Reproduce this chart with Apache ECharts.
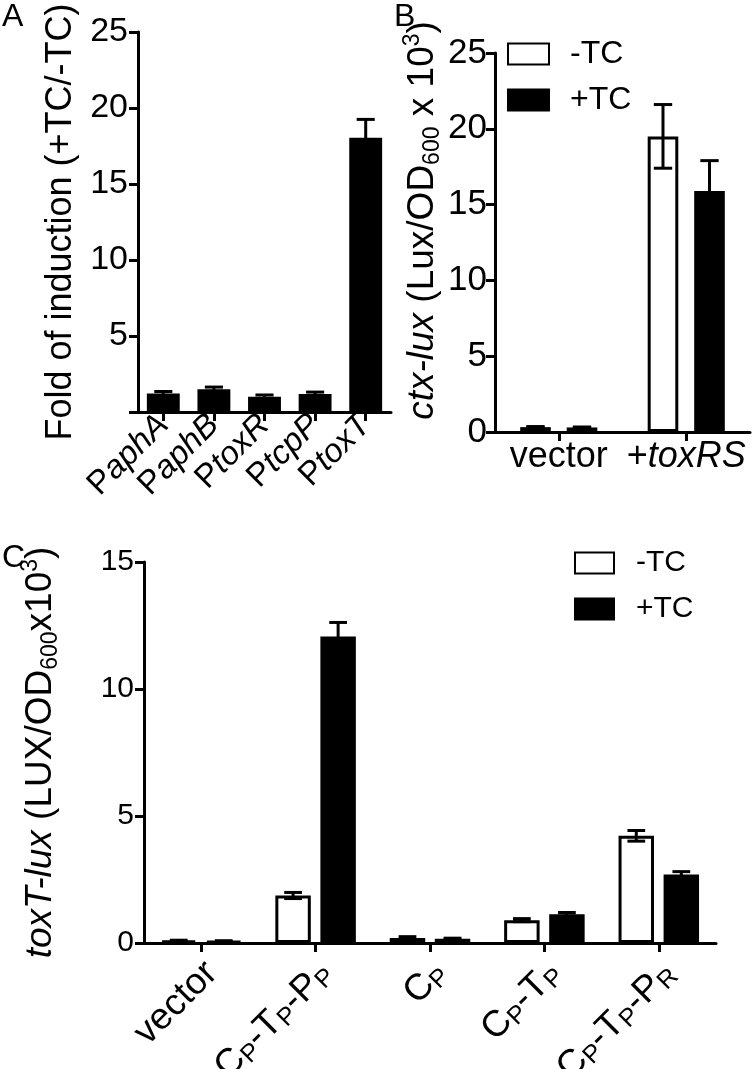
<!DOCTYPE html>
<html><head><meta charset="utf-8">
<script src="https://cdn.jsdelivr.net/npm/echarts@6/dist/echarts.min.js"></script>
<style>html,body{margin:0;padding:0;background:#fff}#c{width:752px;height:1069px}</style>
</head><body><div id="c"></div>
<script>
// ---------- data ----------
const promotersA = ['PaphA', 'PaphB', 'PtoxR', 'PtcpP', 'PtoxT'];
const foldA = [1.22, 1.5, 1.0, 1.18, 18.05];
const foldErrA = [0.13, 0.14, 0.12, 0.13, 1.2];
const yTicksA = [0, 5, 10, 15, 20, 25];

const categoriesB = ['vector', '+toxRS'];
const minusTcB = [0.32, 19.5];
const minusTcErrB = [0.04, 2.1];
const plusTcB = [0.3, 15.9];
const plusTcErrB = [0.03, 2.0];
const yTicksB = [0, 5, 10, 15, 20, 25];

const constructsC = ['vector', 'C_P-T_P-P_P', 'C_P', 'C_P-T_P', 'C_P-T_P-P_R'];
const minusTcC = [0.09, 1.87, 0.2, 0.9, 4.22];
const minusTcErrC = [0.02, 0.12, 0.05, 0.06, 0.21];
const plusTcC = [0.07, 12.07, 0.17, 1.13, 2.7];
const plusTcErrC = [0.02, 0.55, 0.02, 0.07, 0.11];
const yTicksC = [0, 5, 10, 15];

const seriesNames = ['-TC', '+TC'];

// ---------- helpers ----------
const FF = '"Liberation Sans", Arial, sans-serif';

function errData(vals, errs) { return vals.map((v, i) => [i, v, errs[i]]); }

function errRender(sign, barPct, gapPct, capFrac, lw) {
  return function (params, api) {
    const idx = api.value(0), v = api.value(1), e = api.value(2);
    const band = api.size([1, 0])[0];
    const bw = band * barPct;
    const off = sign * (bw + bw * gapPct) / 2;
    const top = api.coord([idx, v + e]);
    const bot = api.coord([idx, Math.max(0, v - e)]);
    const x = top[0] + off;
    const cap = bw * capFrac / 2;
    const st = { stroke: '#000', lineWidth: lw };
    return {
      type: 'group', children: [
        { type: 'line', shape: { x1: x, y1: top[1], x2: x, y2: bot[1] }, style: st },
        { type: 'line', shape: { x1: x - cap, y1: top[1], x2: x + cap, y2: top[1] }, style: st },
        { type: 'line', shape: { x1: x - cap, y1: bot[1], x2: x + cap, y2: bot[1] }, style: st }
      ]
    };
  };
}

const axisLineStyle = { show: true, lineStyle: { color: '#000', width: 3 } };
const axisTickStyle = { show: true, length: 9, lineStyle: { color: '#000', width: 3 } };

function makeTitleRich(fs) {
  const sub = Math.round(fs * 0.62);
  return {
    n: { fontFamily: FF, fontSize: fs, color: '#000', lineHeight: fs + 6 },
    i: { fontFamily: FF, fontSize: fs, fontStyle: 'italic', color: '#000', lineHeight: fs + 6 },
    sub: { fontFamily: FF, fontSize: sub, color: '#000', lineHeight: sub, verticalAlign: 'bottom' },
    sup: { fontFamily: FF, fontSize: sub, color: '#000', lineHeight: sub, verticalAlign: 'top' },
    gap: { width: 44, fontSize: fs, lineHeight: fs + 6 }
  };
}

function yAxis(grid, ticks, labelSize, labelMargin, hideZero, name, nameGap, fs) {
  return {
    type: 'value', gridIndex: grid, min: ticks[0], max: ticks[ticks.length - 1],
    interval: ticks[1] - ticks[0],
    axisLine: axisLineStyle, axisTick: axisTickStyle, splitLine: { show: false },
    axisLabel: {
      color: '#000', fontFamily: FF, fontSize: labelSize, margin: labelMargin,
      formatter: v => (hideZero && v === 0) ? '' : String(v)
    },
    name: name, nameLocation: 'middle', nameRotate: 90, nameGap: nameGap,
    nameTextStyle: { color: '#000', fontFamily: FF, fontSize: fs, rich: makeTitleRich(fs) }
  };
}

const panelTitle = { fontFamily: FF, fontSize: 32, fontWeight: 'normal', color: '#000' };

const option = {
  animation: false,
  backgroundColor: '#fff',
  title: [
    { text: 'A', left: 2, top: 1, padding: 0, textStyle: panelTitle },
    { text: 'B', left: 394, top: 1, padding: 0, textStyle: panelTitle },
    { text: 'C', left: 2, top: 542, padding: 0, textStyle: panelTitle }
  ],
  legend: [
    {
      data: seriesNames, orient: 'vertical', left: 507, top: 38, padding: 0, itemGap: 14,
      itemWidth: 41, itemHeight: 21, icon: 'rect', selectedMode: false,
      textStyle: { fontFamily: FF, fontSize: 32, color: '#000', padding: [0, 0, 0, 16] }
    },
    {
      data: seriesNames, orient: 'vertical', left: 574, top: 548, padding: 0, itemGap: 16,
      itemWidth: 39, itemHeight: 21, icon: 'rect', selectedMode: false,
      textStyle: { fontFamily: FF, fontSize: 30, color: '#000', padding: [0, 0, 0, 17] }
    }
  ],
  grid: [
    { left: 138, top: 32, width: 253, height: 380, outerBoundsMode: 'none', containLabel: false },
    { left: 495, top: 53, width: 255, height: 379, outerBoundsMode: 'none', containLabel: false },
    { left: 144, top: 562, width: 572, height: 381, outerBoundsMode: 'none', containLabel: false }
  ],
  xAxis: [
    {
      type: 'category', gridIndex: 0, data: promotersA,
      axisLine: axisLineStyle, axisTick: Object.assign({ alignWithLabel: true }, axisTickStyle),
      axisLabel: {
        rotate: 45, margin: 8, interval: 0,
        formatter: v => '{n|' + v.charAt(0) + '}{i|' + v.slice(1) + '}',
        rich: {
          n: { fontFamily: FF, fontSize: 33, color: '#000' },
          i: { fontFamily: FF, fontSize: 33, fontStyle: 'italic', color: '#000' }
        }
      }
    },
    {
      type: 'category', gridIndex: 1, data: categoriesB,
      axisLine: axisLineStyle, axisTick: Object.assign({ alignWithLabel: true }, axisTickStyle),
      axisLabel: {
        margin: 7, interval: 0,
        formatter: v => v.charAt(0) === '+' ? '{n|+}{i|' + v.slice(1) + '}' : '{n|' + v + '}',
        rich: {
          n: { fontFamily: FF, fontSize: 36, color: '#000' },
          i: { fontFamily: FF, fontSize: 36, fontStyle: 'italic', color: '#000' }
        }
      }
    },
    {
      type: 'category', gridIndex: 2, data: constructsC,
      axisLine: axisLineStyle, axisTick: Object.assign({ alignWithLabel: true }, axisTickStyle),
      axisLabel: {
        rotate: 45, margin: 14, interval: 0, padding: [30, 0, 0, 0],
        formatter: v => '{n|' + v.replace(/_(\w)/g, '}{s|$1}{n|') + '}',
        rich: {
          n: { fontFamily: FF, fontSize: 37, color: '#000', lineHeight: 40 },
          s: { fontFamily: FF, fontSize: 25, color: '#000', lineHeight: 25, verticalAlign: 'bottom' }
        }
      }
    }
  ],
  yAxis: [
    yAxis(0, yTicksA, 34, 10, true, '{n|Fold of induction (+TC/-TC)}', 56, 36),
    yAxis(1, yTicksB, 35, 8, false, '{gap|}{i|ctx-lux}{n| (Lux/OD}{sub|600}{n| x 10}{sup|3}{n|)}', 50, 37),
    yAxis(2, yTicksC, 30, 10, false, '{i|toxT-lux}{n| (LUX/OD}{sub|600}{n|x10}{sup|3}{n|)}', 82, 37)
  ],
  series: [
    {
      type: 'bar', xAxisIndex: 0, yAxisIndex: 0, data: foldA, barWidth: '65%',
      itemStyle: { color: '#000' }, z: 2
    },
    {
      type: 'custom', xAxisIndex: 0, yAxisIndex: 0, data: errData(foldA, foldErrA),
      encode: { x: 0, y: 1 }, renderItem: errRender(0, 0.65, 0, 0.55, 3), z: 3
    },
    {
      name: '-TC', type: 'bar', xAxisIndex: 1, yAxisIndex: 1, data: minusTcB,
      barWidth: '24%', barGap: '52%',
      itemStyle: { color: '#fff', borderColor: '#000', borderWidth: 3 }, z: 2
    },
    {
      name: '+TC', type: 'bar', xAxisIndex: 1, yAxisIndex: 1, data: plusTcB,
      barWidth: '24%', barGap: '52%',
      itemStyle: { color: '#000', borderColor: '#000', borderWidth: 3 }, z: 2
    },
    {
      type: 'custom', xAxisIndex: 1, yAxisIndex: 1, data: errData(minusTcB, minusTcErrB),
      encode: { x: 0, y: 1 }, renderItem: errRender(-1, 0.24, 0.52, 0.6, 3), z: 3
    },
    {
      type: 'custom', xAxisIndex: 1, yAxisIndex: 1, data: errData(plusTcB, plusTcErrB),
      encode: { x: 0, y: 1 }, renderItem: errRender(1, 0.24, 0.52, 0.6, 3), z: 3
    },
    {
      name: '-TC', type: 'bar', xAxisIndex: 2, yAxisIndex: 2, data: minusTcC,
      barWidth: '31%', barGap: '27%',
      itemStyle: { color: '#fff', borderColor: '#000', borderWidth: 3 }, z: 2
    },
    {
      name: '+TC', type: 'bar', xAxisIndex: 2, yAxisIndex: 2, data: plusTcC,
      barWidth: '31%', barGap: '27%',
      itemStyle: { color: '#000', borderColor: '#000', borderWidth: 3 }, z: 2
    },
    {
      type: 'custom', xAxisIndex: 2, yAxisIndex: 2, data: errData(minusTcC, minusTcErrC),
      encode: { x: 0, y: 1 }, renderItem: errRender(-1, 0.31, 0.27, 0.5, 3), z: 3
    },
    {
      type: 'custom', xAxisIndex: 2, yAxisIndex: 2, data: errData(plusTcC, plusTcErrC),
      encode: { x: 0, y: 1 }, renderItem: errRender(1, 0.31, 0.27, 0.5, 3), z: 3
    }
  ]
};

const chart = echarts.init(document.getElementById('c'), null, { renderer: 'canvas' });
chart.setOption(option);
</script>
</body></html>
